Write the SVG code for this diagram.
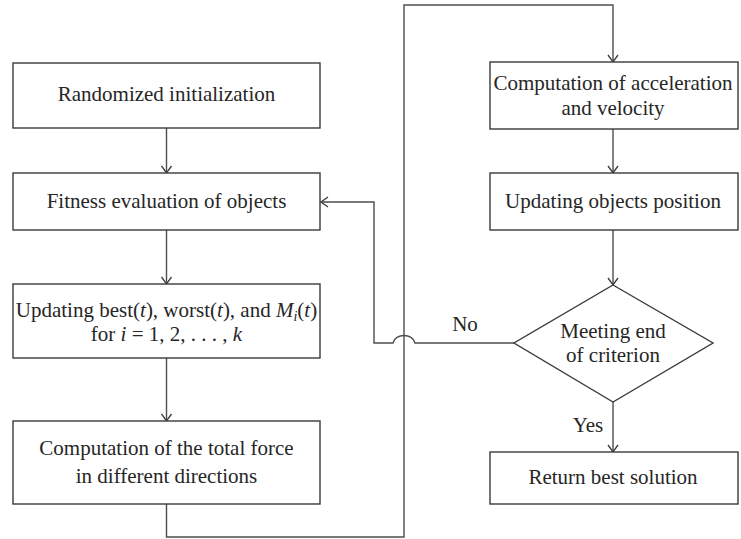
<svg xmlns="http://www.w3.org/2000/svg" width="741" height="539" viewBox="0 0 741 539">
<style>
.box{fill:#fff;stroke:#3a3a3a;stroke-width:1.4}
.t{font-family:'Liberation Serif','DejaVu Serif',serif;font-size:21px;fill:#262626;text-anchor:middle}
.i{font-style:italic}
.c{fill:none;stroke:#4d4d4d;stroke-width:1.4}
</style>
<defs>
<marker id="a" viewBox="-10 -6 12 12" markerWidth="12" markerHeight="12" refX="0" refY="0" orient="auto" markerUnits="userSpaceOnUse">
<path d="M-7,-5 L0,0 L-7,5" fill="none" stroke="#3a3a3a" stroke-width="1.3"/>
</marker>
</defs>
<rect width="741" height="539" fill="#fff"/>
<g id="connectors">
<path class="c" d="M166.5,128 V173" marker-end="url(#a)"/>
<path class="c" d="M166.5,230 V284" marker-end="url(#a)"/>
<path class="c" d="M166.5,358 V421" marker-end="url(#a)"/>
<path class="c" d="M166.5,504 V537 H404 V5 H613 V62" marker-end="url(#a)"/>
<path class="c" d="M613,129 V173" marker-end="url(#a)"/>
<path class="c" d="M613,230 V285" marker-end="url(#a)"/>
<path class="c" d="M613,402 V452" marker-end="url(#a)"/>
<path class="c" d="M514,343 H415 C413,333 395,333 393,343 H374 V202 H321" marker-end="url(#a)"/>
<text class="t" x="465" y="331">No</text>
<text class="t" x="588" y="432">Yes</text>
</g>
<g id="n1"><rect class="box" x="13" y="63" width="307" height="65"/><text class="t" x="166.5" y="101">Randomized initialization</text></g>
<g id="n2"><rect class="box" x="13" y="173" width="307" height="57"/><text class="t" x="166.5" y="208">Fitness evaluation of objects</text></g>
<g id="n3"><rect class="box" x="13" y="284" width="307" height="74"/>
<text class="t" x="166.5" y="317">Updating best(<tspan class="i">t</tspan>), worst(<tspan class="i">t</tspan>), and <tspan class="i">M</tspan><tspan class="i" font-size="14" dy="4">i</tspan><tspan dy="-4">(</tspan><tspan class="i">t</tspan>)</text>
<text class="t" x="166.5" y="341">for <tspan class="i">i</tspan> = 1, 2, . . . , <tspan class="i">k</tspan></text></g>
<g id="n4"><rect class="box" x="13" y="421" width="307" height="83"/>
<text class="t" x="166.5" y="455">Computation of the total force</text>
<text class="t" x="166.5" y="483">in different directions</text></g>
<g id="n5"><rect class="box" x="490" y="62" width="248" height="67"/>
<text class="t" x="613" y="90">Computation of acceleration</text>
<text class="t" x="613" y="115">and velocity</text></g>
<g id="n6"><rect class="box" x="490" y="173" width="248" height="57"/><text class="t" x="613" y="208">Updating objects position</text></g>
<g id="n7"><path class="box" d="M613,285 L713,343 L613,402 L514,343 Z"/>
<text class="t" x="613" y="338">Meeting end</text>
<text class="t" x="613" y="362">of criterion</text></g>
<g id="n8"><rect class="box" x="490" y="452" width="248" height="52"/><text class="t" x="613" y="484">Return best solution</text></g>
</svg>
